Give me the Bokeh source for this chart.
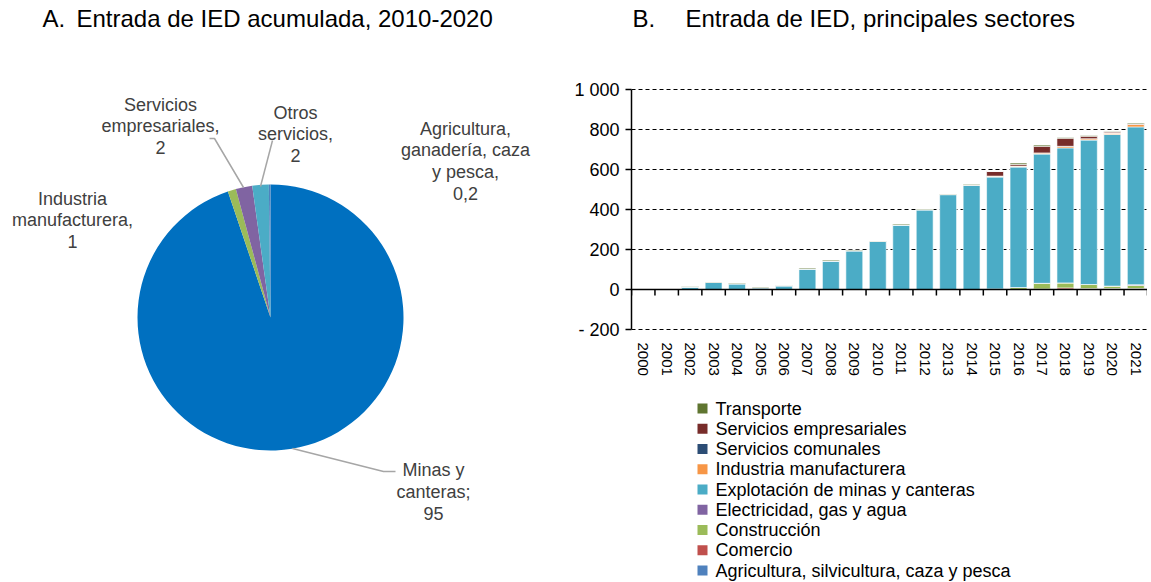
import numpy as np
from bokeh.plotting import figure
from bokeh.models import Range1d, ColumnDataSource, FixedTicker, Span
from bokeh.layouts import row, column
from bokeh.core.properties import value
from bokeh.embed import file_html
from bokeh.resources import INLINE

# ---------------- Panel A data ----------------
pie_sectors = ["Minas y canteras", "Industria manufacturera", "Servicios empresariales",
               "Otros servicios", "Agricultura, ganadería, caza y pesca"]
pie_values = [95, 1, 2, 2, 0.2]
pie_labels = ["Minas y\ncanteras;\n95", "Industria\nmanufacturera,\n1",
              "Servicios\nempresariales,\n2", "Otros\nservicios,\n2",
              "Agricultura,\nganadería, caza\ny pesca,\n0,2"]
pie_colors = ["#0070C0", "#9BBB59", "#8064A2", "#4BACC6", "#4F81BD"]

# ---------------- Panel B data ----------------
years = [str(y) for y in range(2000, 2022)]
agricultura = [0, 0, 0, 0, 0, 0, 0, 0, 0, 0, 0, 0, 0, 0, 0, 0, 0, 0, 0, 0, 0, 0]
comercio = [0, 0, 0, 0, 0, 0, 0, 0, 0, 0, 0, 0, 0, 0, 0, 0, 0, 3, 8, 5, 5, 5]
construccion = [0, 0, 0, 0, 0, 0, 0, 0, 0, 0, 0, 0, 0, 0, 0, 3, 10, 28, 25, 20, 12, 15]
electricidad = [0, 0, 0, 0, 0, 0, 0, 0, 0, 0, 0, 0, 0, 0, 0, 0, 0, 0, 0, 0, 0, 4]
minas = [0, 0, 13, 35, 29, 9, 19, 103, 143, 194, 241, 323, 399, 474, 521, 559, 602, 646, 675, 722, 758, 789]
industria = [0, 0, 0, 0, 0, 0, 0, 0, 0, 0, 0, 0, 0, 1, 3, 5, 5, 6, 8, 7, 7, 12]
serv_comunales = [0, 0, 0, 0, 0, 0, 0, 0, 0, 0, 0, 0, 0, 0, 0, 0, 0, 0, 0, 0, 0, 0]
serv_empresariales = [0, 0, 0, 0, 0, 0, 0, 0, 0, 0, 0, 0, 0, 0, 0, 23, 8, 33, 40, 12, 5, 3]
transporte = [0, 0, 2, 2, 3, 3, 1, 4, 4, 3, 2, 4, 3, 2, 3, 0, 7, 6, 4, 4, 3, 4]

series_names = ["Agricultura, silvicultura, caza y pesca", "Comercio", "Construcción",
                "Electricidad, gas y agua", "Explotación de minas y canteras",
                "Industria manufacturera", "Servicios comunales",
                "Servicios empresariales", "Transporte"]
series_values = [agricultura, comercio, construccion, electricidad, minas, industria,
                 serv_comunales, serv_empresariales, transporte]
series_colors = ["#4F81BD", "#C0504D", "#9BBB59", "#8064A2", "#4BACC6",
                 "#F79646", "#2C4D75", "#772C2A", "#5F7530"]

yticks = [-200, 0, 200, 400, 600, 800, 1000]
ytick_labels = ["- 200", "0", "200", "400", "600", "800", "1 000"]

title_a = ["A.", "Entrada de IED acumulada, 2010-2020"]
title_b = ["B.", "Entrada de IED, principales sectores"]

FONT = "Liberation Sans"
TFONT = "Liberation Sans"

# ---------------- Panel A: pie ----------------
W1, H1 = 563, 582
p1 = figure(width=W1, height=H1, x_range=Range1d(0, W1), y_range=Range1d(0, H1),
            min_border=0, x_axis_type=None, y_axis_type=None,
            output_backend="svg", toolbar_location=None, outline_line_color=None)
p1.grid.grid_line_color = None

def px(x):
    return x

def py(y):
    return H1 - y

cx, cy, R = px(270), py(317), 133
fr = np.array(pie_values) / sum(pie_values)
cum = np.cumsum(fr)
start = (np.pi / 2 - 2 * np.pi * np.concatenate([[0], cum[:-1]])).tolist()
end = (np.pi / 2 - 2 * np.pi * cum).tolist()
pie_src = ColumnDataSource(dict(x=[cx] * len(pie_values), y=[cy] * len(pie_values),
                                start=start, end=end, color=pie_colors))
p1.wedge(x="x", y="y", radius=R, start_angle="start", end_angle="end", direction="clock",
         fill_color="color", line_color=None, source=pie_src)

# leader lines
leaders = [
    [(292, 448), (383, 471), (395, 471)],
    [(209, 138), (214, 138), (243, 187)],
    [(272, 140), (260, 186)],
]
for pts in leaders:
    p1.line([px(a) for a, b in pts], [py(b) for a, b in pts], line_color="#A6A6A6", line_width=1.5)

label_pos = [(433, 491), (72, 219.5), (160, 125.5), (295, 133.5), (465, 160.5)]
LH = 21.5
tx, ty, tt = [], [], []
for lab, (a, b) in zip(pie_labels, label_pos):
    lines = lab.split("\n")
    m = len(lines)
    for k, ln in enumerate(lines):
        tx.append(px(a))
        ty.append(py(b + (k - (m - 1) / 2) * LH))
        tt.append(ln)
p1.text(x=tx, y=ty, text=tt, text_align="center", text_baseline="middle",
        text_font=value(FONT), text_font_size="18px", text_color="#404040")

p1.text(x=[px(42), px(76)], y=[py(18), py(18)], text=title_a,
        text_align="left", text_baseline="middle", text_font=value(TFONT),
        text_font_size="24px", text_color="black")

# ---------------- Panel B: stacked bars ----------------
n = len(years)
FW = 516
xc = (np.arange(n) + 0.5).tolist()
keys = ["s%d" % i for i in range(len(series_values))]
data = {"x": xc}
for k, v in zip(keys, series_values):
    data[k] = v
src = ColumnDataSource(data)

UPP = 5.0  # data units per pixel on the value axis
y_lo = -200 - 1 * UPP
y_hi = 1000 + 89 * UPP
p2 = figure(frame_width=FW, frame_height=int(round((y_hi - y_lo) / UPP)),
            x_range=Range1d(0, n), y_range=Range1d(y_lo, y_hi),
            min_border_left=68, min_border_right=0, min_border_top=0, min_border_bottom=0,
            output_backend="svg", toolbar_location=None, outline_line_color=None)

rs = p2.vbar_stack(keys, x="x", width=0.72, source=src, fill_color=series_colors,
                   line_color="white", line_width=0.6)

# zero line with category-boundary ticks
p2.add_layout(Span(location=0, dimension="width", line_color="black", line_width=1.5))
bounds = list(range(n + 1))
p2.segment(x0=bounds, x1=bounds, y0=[0] * len(bounds), y1=[-6 * UPP] * len(bounds),
           line_color="black", line_width=1.5)

p2.xgrid.grid_line_color = None
p2.ygrid.grid_line_color = "black"
p2.ygrid.grid_line_dash = "4 3"
p2.ygrid.grid_line_width = 1

p2.yaxis.ticker = FixedTicker(ticks=yticks)
p2.yaxis.bounds = (yticks[0], yticks[-1])
p2.yaxis.major_label_overrides = {t: l for t, l in zip(yticks, ytick_labels)}
p2.yaxis.major_label_text_font = FONT
p2.yaxis.major_label_text_font_size = "18px"
p2.yaxis.major_label_text_color = "black"
p2.yaxis.axis_line_width = 1.5
p2.yaxis.axis_line_color = "black"
p2.yaxis.major_tick_out = 6
p2.yaxis.major_tick_in = 0
p2.yaxis.major_tick_line_width = 1.5
p2.yaxis.minor_tick_line_color = None
p2.yaxis.major_label_standoff = 6

xax = p2.xaxis[0]
xax.ticker = FixedTicker(ticks=xc)
xax.major_label_overrides = {x: y for x, y in zip(xc, years)}
xax.major_label_orientation = "vertical"
xax.major_label_text_font = FONT
xax.major_label_text_font_size = "15px"
xax.major_label_text_color = "black"
xax.axis_line_color = None
xax.major_tick_line_color = None
xax.major_tick_out = 0
xax.major_tick_in = 0
xax.minor_tick_line_color = None
xax.major_label_standoff = 12

cat_px = FW / n
p2.text(x=[(632 - 631) / cat_px, (685 - 631) / cat_px], y=[1000 + (89 - 18) * UPP] * 2,
        text=title_b, text_align="left", text_baseline="middle",
        text_font=value(TFONT), text_font_size="24px", text_color="black")

# ---------------- legend panel (drawn from the series lists) ----------------
H3 = 203
p3 = figure(frame_width=FW, frame_height=H3, x_range=Range1d(0, FW), y_range=Range1d(0, H3),
            min_border_left=68, min_border_right=0, min_border_top=0, min_border_bottom=0,
            x_axis_type=None, y_axis_type=None,
            output_backend="svg", toolbar_location=None, outline_line_color=None)
p3.grid.grid_line_color = None
leg_names = list(reversed(series_names))
leg_colors = list(reversed(series_colors))
row_y = [H3 - 30 - 20.25 * i for i in range(len(leg_names))]
p3.rect(x=[702 - 631] * len(leg_names), y=row_y, width=10, height=10,
        fill_color=leg_colors, line_color=None)
p3.text(x=[715 - 631] * len(leg_names), y=row_y, text=leg_names, text_align="left",
        text_baseline="middle", text_font=value(FONT), text_font_size="18px",
        text_color="black")

layout = row(p1, column(p2, p3))
open("out.html", "w").write(file_html(layout, INLINE))
